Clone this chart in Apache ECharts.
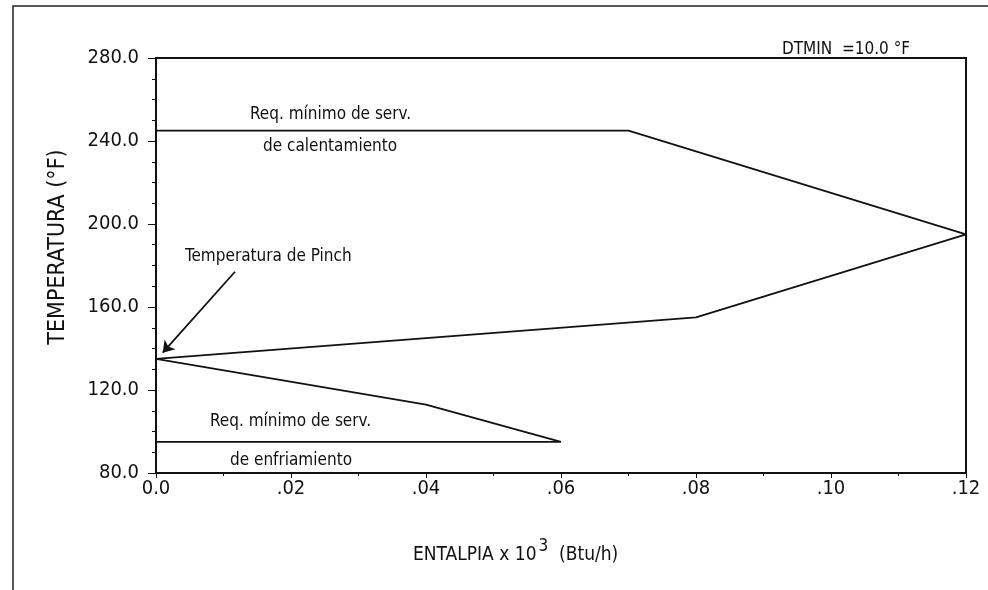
<!DOCTYPE html>
<html>
<head>
<meta charset="utf-8">
<script src="https://cdn.jsdelivr.net/npm/echarts@6/dist/echarts.min.js"></script>
<style>
  html, body { margin: 0; padding: 0; background: #fff; }
  #chart { width: 988px; height: 590px; }
</style>
</head>
<body>
<div id="chart"></div>
<script>
// curva compuesta sobre el pinch (Q en 10^3 Btu/h, T en °F)
const hotQ = [0, 0.07, 0.12, 0.08, 0];
const hotT = [245, 245, 195, 155, 135];
// curva bajo el pinch
const coldQ = [0, 0.04, 0.06, 0];
const coldT = [135, 113, 95, 95];
// flecha del punto de pinch
const arrowFrom = [0.0117, 177];
const arrowTo = [0.001, 138];

const FONT = "'Liberation Sans Narrow', 'Arial Narrow', 'DejaVu Sans Condensed', sans-serif";
const INK = '#111';

var myChart = echarts.init(document.getElementById('chart'));

function label(text, left, top, size) {
  return {
    type: 'text', left: left, top: top, silent: true,
    style: { text: text, fill: INK, font: (size || 17) + 'px ' + FONT }
  };
}

myChart.setOption({
  animation: false,
  backgroundColor: '#fff',
  grid: {
    left: 156, right: 22, top: 58, bottom: 117,
    show: true, borderColor: INK, borderWidth: 2
  },
  xAxis: {
    type: 'value',
    min: 0, max: 0.12, interval: 0.02,
    axisLine: { show: true, lineStyle: { color: INK, width: 2 } },
    axisTick: { show: true, length: 5, lineStyle: { color: INK } },
    minorTick: { show: true, splitNumber: 2, length: 3, lineStyle: { color: INK } },
    splitLine: { show: false },
    axisLabel: {
      color: INK, fontFamily: FONT, fontSize: 20, margin: 6,
      formatter: v => v === 0 ? '0.0' : '.' + String(Math.round(v * 100)).padStart(2, '0')
    }
  },
  yAxis: {
    type: 'value',
    min: 80, max: 280, interval: 40,
    axisLine: { show: true, lineStyle: { color: INK, width: 2 } },
    axisTick: { show: true, length: 8, lineStyle: { color: INK } },
    minorTick: { show: true, splitNumber: 4, length: 4, lineStyle: { color: INK } },
    splitLine: { show: false },
    axisLabel: {
      color: INK, fontFamily: FONT, fontSize: 20, margin: 17,
      formatter: v => v.toFixed(1)
    }
  },
  series: [
    {
      name: 'sobre pinch',
      type: 'line',
      symbol: 'none',
      lineStyle: { color: INK, width: 1.8 },
      data: hotQ.map((q, i) => [q, hotT[i]])
    },
    {
      name: 'bajo pinch',
      type: 'line',
      symbol: 'none',
      lineStyle: { color: INK, width: 1.8 },
      data: coldQ.map((q, i) => [q, coldT[i]]),
      markLine: {
        silent: true,
        symbol: ['none', 'arrow'],
        symbolSize: 11,
        label: { show: false },
        lineStyle: { color: INK, width: 1.8, type: 'solid' },
        data: [[{ coord: arrowFrom }, { coord: arrowTo }]]
      }
    }
  ],
  graphic: [
    {
      type: 'polyline', silent: true,
      shape: { points: [[13, 590], [13, 6], [988, 6]] },
      style: { stroke: '#222', lineWidth: 1.5, fill: null }
    },
    {
      type: 'text', silent: true,
      x: 58, y: 247, rotation: Math.PI / 2,
      style: {
        text: 'TEMPERATURA (°F)', fill: INK, font: '23px ' + FONT,
        align: 'center', verticalAlign: 'middle'
      }
    },
    label('DTMIN  =10.0 °F', 782, 41, 17),
    label('Req. mínimo de serv.', 250, 106),
    label('de calentamiento', 263, 138),
    label('Temperatura de Pinch', 185, 248),
    label('Req. mínimo de serv.', 210, 413),
    label('de enfriamiento', 230, 452),
    {
      type: 'text', left: 413, top: 538, silent: true,
      style: {
        text: '{a|ENTALPIA x 10}{s|3}{a|  (Btu/h)}',
        rich: {
          a: { fill: INK, font: '19px ' + FONT, padding: [11, 0, 0, 0] },
          s: { fill: INK, font: '17px ' + FONT, padding: [0, 0, 7, 2] }
        }
      }
    }
  ]
});
</script>
</body>
</html>
